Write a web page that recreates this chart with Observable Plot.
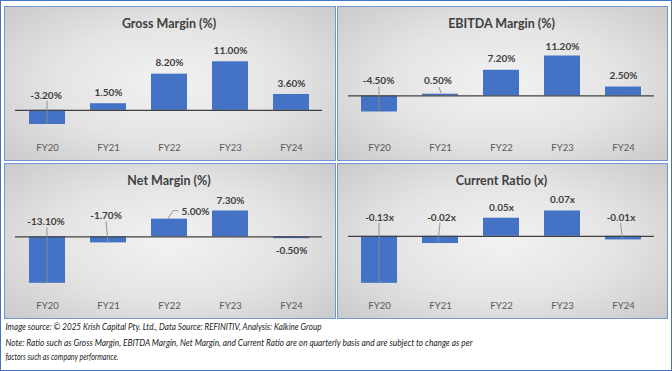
<!DOCTYPE html>
<html><head><meta charset="utf-8">
<script src="https://cdn.jsdelivr.net/npm/d3@7"></script>
<script src="https://cdn.jsdelivr.net/npm/@observablehq/plot@0.6"></script>
<style>
html,body{margin:0;padding:0;background:#fff;}
#root{position:relative;width:672px;height:371px;box-sizing:border-box;border:1.5px solid #4472C4;overflow:hidden;font-family:Lato,"Open Sans",sans-serif;}
.panel{position:absolute;box-sizing:border-box;border:1.5px solid #7096d8;background:radial-gradient(ellipse 70% 75% at 50% 50%, #f2f2f2 0%, #e4e4e4 50%, #c9c9c9 100%);}
.panel svg{display:block;}
#caption{position:absolute;left:-1.5px;top:-1.5px;}
</style></head><body><div id="root"></div>
<script>
// ---- data ----
const years = ["FY20", "FY21", "FY22", "FY23", "FY24"];
const grossMargin = [-3.2, 1.5, 8.2, 11.0, 3.6];
const ebitdaMargin = [-4.5, 0.5, 7.2, 11.2, 2.5];
const netMargin = [-13.1, -1.7, 5.0, 7.3, -0.5];
const currentRatio = [-0.13, -0.02, 0.05, 0.07, -0.01];
const titles = ["Gross Margin (%)", "EBITDA Margin (%)", "Net Margin (%)", "Current Ratio (x)"];
const units = ["%", "%", "%", "x"];
const captionLines = [
  "Image source: \u00a9 2025 Krish Capital Pty. Ltd., Data Source: REFINITIV, Analysis: Kalkine Group",
  "Note: Ratio such as Gross Margin, EBITDA Margin, Net Margin, and Current Ratio are on quarterly basis and are subject to change as per",
  "factors such as company performance."
];

// ---- layout (positions / label placement) ----
const panelLayout = [
  {left: 4, top: 6, w: 332, h: 155, yRange: [117, 54.3],
   labels: [
     {base: "zero", dy: -15, dx: -1.5, leader: [[0, "zero", -9], [0, "end", 0]]},
     {base: "end", dy: -11}, {base: "end", dy: -11.5}, {base: "end", dy: -11}, {base: "end", dy: -10.5}]},
  {left: 337, top: 6, w: 331, h: 155, yRange: [104.5, 48.5],
   labels: [
     {base: "zero", dy: -15, dx: -1, leader: [[0, "zero", -9], [0, "end", 0]]},
     {base: "end", dy: -13, dx: -2.5, leader: [[-1, "end", -6.5], [1, "end", -0.5]]},
     {base: "end", dy: -11.5}, {base: "end", dy: -9.5}, {base: "end", dy: -11}]},
  {left: 4, top: 163, w: 332, h: 156, yRange: [118.8, 46.5],
   labels: [
     {base: "zero", dy: -15, dx: -1.5, leader: [[0, "zero", -9], [0, "end", 0]]},
     {base: "zero", dy: -21, dx: -2.5, leader: [[-2, "zero", -15], [0, "end", 0]]},
     {base: "end", dy: -7.5, dx: 12, anchor: "start", leader: [[-1, "end", 0], [4, "end", -8], [9, "end", -8]]},
     {base: "end", dy: -10.5},
     {base: "zero", dy: 14}]},
  {left: 337, top: 163, w: 331, h: 156, yRange: [118.8, 46.5],
   labels: [
     {base: "zero", dy: -19, leader: [[0, "zero", -13], [0, "end", 0]]},
     {base: "zero", dy: -19, dx: 1, leader: [[0, "zero", -13], [-2, "end", 0]]},
     {base: "end", dy: -10}, {base: "end", dy: -11},
     {base: "zero", dy: -19, dx: -2.5, leader: [[-2.5, "zero", -13], [-0.5, "end", 0]]}]}
];

const seriesList = [grossMargin, ebitdaMargin, netMargin, currentRatio];
const root = document.getElementById("root");

function leaderMark(rows, segs) {
  return (index, scales) => {
    const x = scales.x, y = scales.y;
    const bw = x.bandwidth ? x.bandwidth() / 2 : 0;
    const g = d3.create("svg:g");
    for (const {row, pts} of segs) {
      const p = pts.map(([dx, base, dy]) =>
        [x(row.year) + bw + dx, y(base === "zero" ? 0 : row.value) + dy].join(",")).join(" ");
      g.append("polyline").attr("points", p).attr("fill", "none")
        .attr("stroke", "#8c8c8c").attr("stroke-width", 0.9);
    }
    return g.node();
  };
}

seriesList.forEach((values, k) => {
  const L = panelLayout[k];
  const data = years.map((year, i) => ({year, value: values[i], label: values[i].toFixed(2) + units[k]}));
  const iw = L.w - 3, ih = L.h - 3;
  const marks = [
    Plot.barY(data, {x: "year", y: "value", fill: "#4472C4"}),
    Plot.ruleY([0], {stroke: "#404040", strokeWidth: 1.3}),
    Plot.text([titles[k]], {text: d => d, frameAnchor: "top", dy: 16.5, lineAnchor: "middle",
      fontWeight: "bold", fontSize: 12.5, fill: "#404040"}),
    Plot.text(years, {x: d => d, text: d => d, frameAnchor: "bottom", dy: -11.5, lineAnchor: "middle",
      fontSize: 9.5, fill: "#595959"})
  ];
  const segs = [];
  data.forEach((row, i) => {
    const lab = L.labels[i];
    marks.push(Plot.text([row], {
      x: "year", y: lab.base === "zero" ? () => 0 : "value", text: "label",
      dy: lab.dy, dx: lab.dx || 0, textAnchor: lab.anchor || "middle", lineAnchor: "middle",
      fontWeight: "bold", fontSize: 10, fill: "#404040"
    }));
    if (lab.leader) segs.push({row, pts: lab.leader});
  });
  marks.push(leaderMark(data, segs));

  const chart = Plot.plot({
    width: iw, height: ih,
    marginTop: 0, marginBottom: 0, marginLeft: 10, marginRight: 12,
    x: {domain: years, paddingInner: 0.41, paddingOuter: 0.2, axis: null},
    y: {domain: d3.extent(values), range: L.yRange, axis: null},
    style: {background: "transparent", fontFamily: "Lato, 'Open Sans', sans-serif", overflow: "visible"},
    marks
  });
  const div = document.createElement("div");
  div.className = "panel";
  Object.assign(div.style, {left: (L.left - 1.5) + "px", top: (L.top - 1.5) + "px", width: L.w + "px", height: L.h + "px"});
  div.appendChild(chart);
  root.appendChild(div);
});

// caption
const cap = d3.create("svg").attr("id", "caption").attr("width", 672).attr("height", 371);
const capLayout = [[5.5, 330, 316], [5.5, 346, 467], [5.5, 359.5, 113]];
captionLines.forEach((t, i) => {
  const [x, y, len] = capLayout[i];
  cap.append("text").attr("x", x).attr("y", y).attr("textLength", len).attr("lengthAdjust", "spacingAndGlyphs")
    .attr("font-family", "Lato, 'Open Sans', sans-serif").attr("font-style", "italic")
    .attr("font-size", 10).attr("fill", "#1a1a1a").text(t);
});
root.appendChild(cap.node());
</script>
</body></html>
